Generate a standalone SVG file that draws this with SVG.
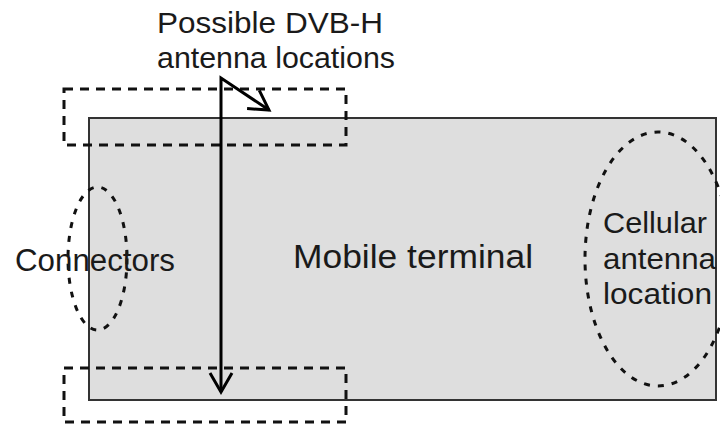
<svg xmlns="http://www.w3.org/2000/svg" width="720" height="425" viewBox="0 0 720 425">
  <defs>
    <style>
      .label { font-family: "Liberation Sans", Arial, Helvetica, sans-serif; fill: #1a1a1a; }
      .zone { fill: none; stroke: #111; stroke-width: 3; stroke-dasharray: 9 7; }
      .area { fill: none; stroke: #111; stroke-width: 3; stroke-dasharray: 6 8; }
      .pointer { fill: none; stroke: #000; stroke-width: 3; stroke-linejoin: miter; }
    </style>
    <marker id="vhead" markerUnits="userSpaceOnUse" viewBox="-24 -14 28 28" refX="0" refY="0" markerWidth="28" markerHeight="28" orient="auto-start-reverse">
      <path d="M-19,-11 L0,0 L-19,11" fill="none" stroke="#000" stroke-width="3"/>
    </marker>
  </defs>

  <!-- handset body -->
  <g id="terminal">
    <rect x="89" y="118" width="627" height="282" fill="#dedede" stroke="#333" stroke-width="2"/>
    <text class="label" x="293" y="268" font-size="33" textLength="240" lengthAdjust="spacingAndGlyphs">Mobile terminal</text>
  </g>

  <!-- connector zone on the left end -->
  <g id="connectors">
    <ellipse class="area" cx="97.5" cy="258.5" rx="29.5" ry="71.5"/>
    <text class="label" x="15" y="271" font-size="31" textLength="160" lengthAdjust="spacingAndGlyphs">Connectors</text>
  </g>

  <!-- cellular antenna zone on the right end -->
  <g id="cellular">
    <ellipse class="area" cx="658" cy="259" rx="73" ry="127"/>
    <text class="label" font-size="29">
      <tspan x="603" y="233" textLength="104" lengthAdjust="spacingAndGlyphs">Cellular</tspan>
      <tspan x="603" y="269" textLength="113" lengthAdjust="spacingAndGlyphs">antenna</tspan>
      <tspan x="603" y="304" textLength="109" lengthAdjust="spacingAndGlyphs">location</tspan>
    </text>
  </g>

  <!-- candidate DVB-H antenna zones -->
  <g id="dvbh-top">
    <rect class="zone" x="64" y="89" width="282" height="56"/>
  </g>
  <g id="dvbh-bottom">
    <rect class="zone" x="64" y="368" width="282" height="54"/>
  </g>

  <g id="dvbh-label">
    <text class="label" x="157" y="33" font-size="29" textLength="226" lengthAdjust="spacingAndGlyphs">Possible DVB-H</text>
    <text class="label" x="157" y="68" font-size="29" textLength="238" lengthAdjust="spacingAndGlyphs">antenna locations</text>
  </g>

  <!-- pointers from the label to both zones -->
  <g id="connectors-arrows">
    <path class="pointer" d="M221,392 L221,78 L269,110" marker-start="url(#vhead)" marker-end="url(#vhead)"/>
  </g>
</svg>
